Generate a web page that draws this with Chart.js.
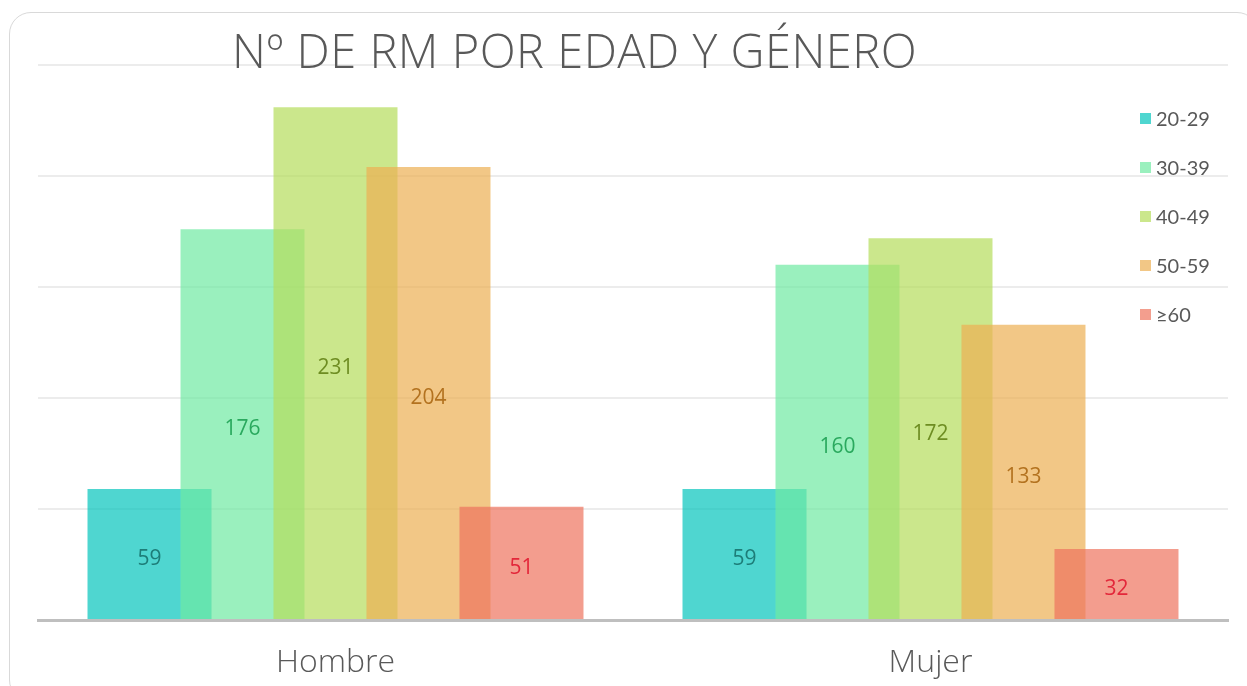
<!DOCTYPE html>
<html>
<head>
<meta charset="utf-8">
<script src="https://cdn.jsdelivr.net/npm/chart.js@4"></script>
<style>
  html, body { margin: 0; padding: 0; background: #fff; }
  #wrap { position: relative; width: 1247px; height: 686px; overflow: hidden; }
  #frame { position: absolute; left: 9px; top: 12px; width: 1250px; height: 690px;
           border: 1.5px solid #d9d9d9; border-radius: 22px; box-sizing: border-box; }
  canvas { position: absolute; left: 0; top: 0; }
  #title { position: absolute; left: 232px; top: 20px; font-family: "Open Sans", sans-serif;
           font-weight: 300; font-size: 47px; color: #595959; white-space: nowrap; line-height: 60px; letter-spacing: 0.5px; }
  #legend { position: absolute; left: 1140px; top: 0; font-family: Lato, sans-serif; font-size: 20px; color: #595959; }
  .li { position: absolute; left: 0; height: 22px; display: flex; align-items: center; white-space: nowrap; }
  .sw { width: 11px; height: 11px; margin-right: 5px; }
</style>
</head>
<body>
<div id="wrap">
  <div id="frame"></div>
  <canvas id="c" width="1247" height="686"></canvas>
  <div id="title">Nº DE RM POR EDAD Y GÉNERO</div>
  <div id="legend"></div>
</div>
<script>
const categories = ["Hombre", "Mujer"];
const seriesNames = ["20-29", "30-39", "40-49", "50-59", "≥60"];
const v2029 = [59, 59];
const v3039 = [176, 160];
const v4049 = [231, 172];
const v5059 = [204, 133];
const v60 = [51, 32];
const yTicks = [0, 50, 100, 150, 200, 250];

const seriesValues = [v2029, v3039, v4049, v5059, v60];
const fills = ["rgba(4,196,188,0.7)", "rgba(111,234,162,0.7)", "rgba(181,221,91,0.7)", "rgba(236,175,82,0.7)", "rgba(238,116,94,0.7)"];
const legendSw = ["#4fd6d0", "#9af0be", "#cbe78c", "#f2c786", "#f39e8e"];
const labelColors = ["#1d7d78", "#2aa95e", "#6e8d22", "#b3721f", "#e3273a"];

const datasets = seriesNames.map((n, i) => ({
  label: n,
  data: seriesValues[i],
  backgroundColor: fills[i],
  borderWidth: 0,
  barPercentage: 1.3333,
  categoryPercentage: 0.7815
}));

// Paint series in index order so later series sit on top (as in the reference),
// then write the value labels at the middle of each bar.
const paintOrder = {
  id: 'paintOrder',
  beforeDatasetsDraw(chart) {
    chart.data.datasets.forEach((ds, i) => {
      const meta = chart.getDatasetMeta(i);
      if (meta.visible !== false) meta.controller.draw();
    });
    return false;
  },
  afterDraw(chart) {
    const ctx = chart.ctx;
    ctx.save();
    ctx.font = '21px "Open Sans", sans-serif';
    ctx.textAlign = 'center';
    ctx.textBaseline = 'middle';
    chart.data.datasets.forEach((ds, i) => {
      const meta = chart.getDatasetMeta(i);
      meta.data.forEach((el, j) => {
        ctx.fillStyle = labelColors[i];
        ctx.fillText(String(ds.data[j]), el.x, (el.y + el.base) / 2 + 5);
      });
    });
    ctx.restore();
  }
};

new Chart(document.getElementById('c'), {
  type: 'bar',
  data: { labels: categories, datasets },
  options: {
    responsive: false,
    animation: false,
    devicePixelRatio: 1,
    layout: { padding: { left: 38, right: 19, top: 65, bottom: 0 } },
    plugins: { legend: { display: false }, title: { display: false }, tooltip: { enabled: false } },
    scales: {
      x: {
        grid: { display: false },
        border: { display: true, color: '#bfbfbf', width: 3 },
        ticks: { color: '#595959', font: { family: '"Open Sans", sans-serif', size: 32, weight: '300' }, padding: 16 },
        afterFit: (s) => { s.height = 66; }
      },
      y: {
        min: yTicks[0], max: yTicks[yTicks.length - 1],
        afterBuildTicks: (axis) => { axis.ticks = yTicks.map(v => ({ value: v })); },
        grid: { color: '#ececec', lineWidth: 2, drawTicks: false },
        border: { display: false },
        ticks: { display: false }
      }
    }
  },
  plugins: [paintOrder]
});

const lg = document.getElementById('legend');
const legendY = [107, 156, 205, 254, 303];
seriesNames.forEach((n, i) => {
  const d = document.createElement('div');
  d.className = 'li';
  d.style.top = legendY[i] + 'px';
  d.innerHTML = '<div class="sw" style="background:' + legendSw[i] + '"></div><span>' + n + '</span>';
  lg.appendChild(d);
});
</script>
</body>
</html>
